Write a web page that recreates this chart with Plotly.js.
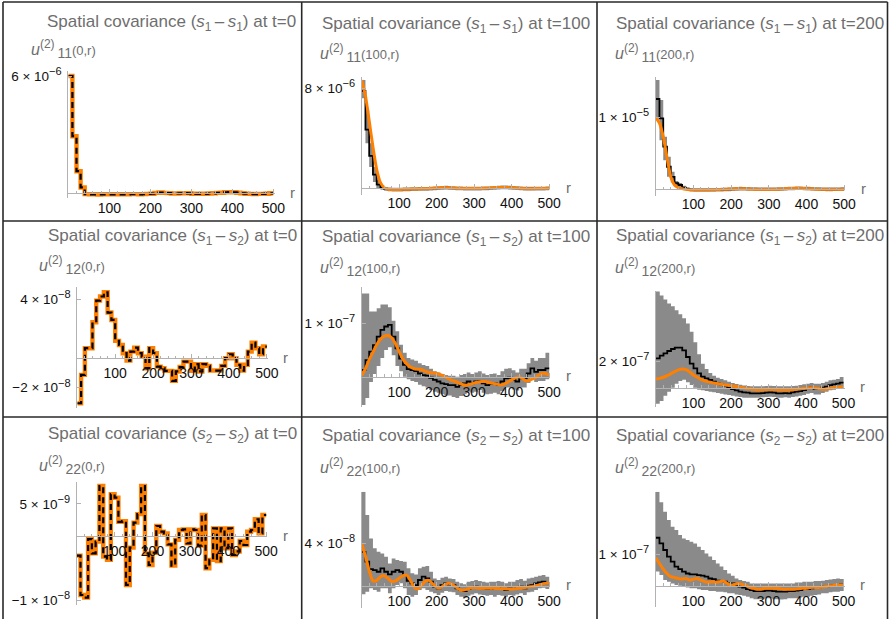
<!DOCTYPE html>
<html><head><meta charset="utf-8">
<script src="https://cdn.plot.ly/plotly-3.0.1.min.js"></script>
<style>html,body{margin:0;padding:0;background:#fff}#chart{width:889px;height:619px}</style>
</head><body><div id="chart"></div>
<script>
// ---------- data ----------
// r grid: bin left edges (50 bins of width 10) plus closing edge 500
const rEdges = [0,10,20,30,40,50,60,70,80,90,100,110,120,130,140,150,160,170,180,190,200,210,220,230,240,250,260,270,280,290,300,310,320,330,340,350,360,370,380,390,400,410,420,430,440,450,460,470,480,490,500];
// theory curve sample points
const rTheory = rEdges;

// Row 1: s1-s1 (units 1e-6)
const s11_t0 = [6.0,2.92,1.13,0.30,-0.04,-0.05,-0.05,-0.06,-0.05,-0.05,-0.05,-0.05,-0.05,-0.05,-0.05,-0.04,-0.04,-0.05,-0.04,-0.03,-0.02,0.02,0.04,0.02,0.01,-0.01,-0.01,0.0,0.01,0.0,-0.02,-0.03,-0.02,-0.03,-0.01,0.0,0.02,0.03,0.05,0.06,0.05,0.03,0.0,-0.02,-0.03,-0.04,-0.03,-0.03,-0.02,0.0];

const s11_t100_mean = [7.8,4.7,2.6,1.1,0.3,0.05,-0.05,-0.08,-0.1,-0.1,-0.1,-0.09,-0.08,-0.07,-0.06,-0.05,-0.05,-0.04,-0.03,-0.01,0.01,0.03,0.05,0.04,0.02,0.0,-0.01,-0.02,-0.02,-0.02,-0.02,-0.02,-0.01,0.0,0.02,0.04,0.06,0.07,0.07,0.06,0.04,0.02,0.0,-0.02,-0.03,-0.03,-0.03,-0.02,-0.02,-0.01];
const s11_t100_hi = [8.66,6.26,3.6,1.7,0.65,0.25,0.1,0.07,0.05,0.05,0.05,0.06,0.07,0.08,0.09,0.1,0.1,0.11,0.12,0.14,0.16,0.18,0.2,0.19,0.17,0.15,0.14,0.13,0.13,0.13,0.13,0.13,0.14,0.15,0.17,0.19,0.21,0.22,0.22,0.21,0.19,0.17,0.15,0.13,0.12,0.12,0.12,0.13,0.13,0.14];
const s11_t100_lo = [7.2,3.6,1.7,0.5,0.0,-0.12,-0.2,-0.23,-0.25,-0.25,-0.25,-0.24,-0.23,-0.22,-0.21,-0.2,-0.2,-0.19,-0.18,-0.16,-0.14,-0.12,-0.1,-0.11,-0.13,-0.15,-0.16,-0.17,-0.17,-0.17,-0.17,-0.17,-0.16,-0.15,-0.13,-0.11,-0.09,-0.08,-0.08,-0.09,-0.11,-0.13,-0.15,-0.17,-0.18,-0.18,-0.18,-0.17,-0.17,-0.16];
const s11_t100_theory = [8.66,7.4,5.4,3.3,1.5,0.45,0.05,-0.08,-0.1,-0.1,-0.1,-0.08,-0.08,-0.06,-0.05,-0.05,-0.04,-0.03,-0.02,0.0,0.02,0.04,0.05,0.04,0.02,0.0,-0.01,-0.02,-0.02,-0.02,-0.02,-0.02,-0.01,0.0,0.02,0.04,0.06,0.07,0.07,0.06,0.04,0.02,0.0,-0.02,-0.03,-0.03,-0.03,-0.02,-0.02,-0.01,0.0];

const s11_t200_mean = [12.55,9.86,5.9,3.1,1.7,0.8,0.56,0.2,0.0,-0.1,-0.15,-0.15,-0.15,-0.14,-0.13,-0.12,-0.11,-0.1,-0.08,-0.05,-0.02,0.02,0.05,0.04,0.02,0.0,-0.02,-0.03,-0.03,-0.03,-0.03,-0.03,-0.02,0.0,0.03,0.06,0.08,0.1,0.1,0.08,0.06,0.03,0.0,-0.02,-0.04,-0.05,-0.05,-0.04,-0.03,-0.02];
const s11_t200_hi = [15.2,12.4,7.3,4.5,2.4,1.1,0.85,0.45,0.25,0.15,0.1,0.1,0.1,0.11,0.12,0.13,0.14,0.15,0.17,0.2,0.23,0.27,0.3,0.29,0.27,0.25,0.23,0.22,0.22,0.22,0.22,0.22,0.23,0.25,0.28,0.31,0.33,0.35,0.35,0.33,0.31,0.28,0.25,0.23,0.21,0.2,0.2,0.21,0.22,0.23];
const s11_t200_lo = [10.0,6.8,4.0,1.7,0.9,0.3,0.25,-0.05,-0.25,-0.35,-0.4,-0.4,-0.4,-0.39,-0.38,-0.37,-0.36,-0.35,-0.33,-0.3,-0.27,-0.23,-0.2,-0.21,-0.23,-0.25,-0.27,-0.28,-0.28,-0.28,-0.28,-0.28,-0.27,-0.25,-0.22,-0.19,-0.17,-0.15,-0.15,-0.17,-0.19,-0.22,-0.25,-0.27,-0.29,-0.3,-0.3,-0.29,-0.28,-0.27];
const s11_t200_theory = [10.0,9.2,7.3,4.4,1.7,0.55,0.2,0.05,-0.05,-0.1,-0.12,-0.12,-0.11,-0.1,-0.09,-0.08,-0.07,-0.06,-0.04,-0.02,0.0,0.03,0.05,0.04,0.02,0.0,-0.02,-0.03,-0.03,-0.03,-0.03,-0.03,-0.02,0.0,0.03,0.06,0.08,0.1,0.1,0.08,0.05,0.03,0.0,-0.02,-0.04,-0.05,-0.05,-0.04,-0.03,-0.02,-0.01];

// Row 2: s1-s2 (units 1e-8)
const s12_t0 = [-3.06,-1.13,0.68,0.68,2.44,3.91,4.19,4.48,3.1,2.6,1.18,0.9,0.34,-0.16,0.45,0.72,0.34,0.1,-0.68,0.68,0.34,-0.57,-0.68,-0.86,-0.86,-1.54,-0.9,-0.6,-0.23,-0.23,-0.86,-0.4,-0.9,-0.4,-0.52,-0.84,-0.84,-0.84,-0.52,0.0,0.27,0.0,-0.45,-0.84,-0.45,0.45,1.06,0.68,0.27,0.79];

const s12_t100_mean = [1.25,3.1,4.7,5.9,7.5,8.75,9.4,9.7,7.5,5.3,3.4,2.2,1.4,1.25,1.06,0.6,0.3,0.2,-0.2,-0.6,-0.9,-1.25,-1.4,-1.56,-1.56,-1.9,-1.56,-1.25,-0.9,-1.25,-0.9,-0.8,-1.25,-1.56,-1.4,-1.25,-1.56,-0.9,-0.3,-0.2,-0.6,-0.9,-0.3,-0.3,0.6,1.56,0.9,1.25,1.25,1.56];
const s12_t100_hi = [15.6,15.6,12.2,12.2,12.8,13.5,13.5,13.0,10.5,8.5,6.0,4.5,3.5,3.2,3.0,2.5,2.2,2.0,1.5,1.0,0.8,0.5,0.3,0.2,0.2,0.0,0.3,0.5,0.8,0.5,0.8,1.0,0.6,0.3,0.5,0.6,0.3,1.0,1.5,1.6,1.2,0.8,1.5,1.5,2.5,3.5,3.0,3.5,3.5,4.5];
const s12_t100_lo = [-5.3,-4.0,-1.0,0.5,2.0,3.5,5.0,5.5,4.0,2.0,1.0,0.0,-0.5,-0.8,-1.0,-1.5,-1.8,-2.0,-2.5,-2.8,-3.0,-3.3,-3.5,-3.5,-3.8,-4.0,-3.6,-3.3,-2.8,-3.0,-2.8,-2.5,-3.0,-3.3,-3.2,-3.0,-3.3,-2.7,-2.0,-2.0,-2.4,-2.6,-2.0,-2.0,-1.2,-0.3,-1.0,-0.8,-0.8,-0.5];
const s12_t100_theory = [0.2,1.5,3.2,4.6,6.0,7.0,7.6,7.7,7.3,6.2,4.7,3.3,2.4,1.8,1.5,1.4,1.3,1.0,0.8,0.7,0.6,0.4,0.1,-0.3,-0.7,-0.9,-1.2,-1.5,-1.6,-1.4,-1.2,-1.0,-0.9,-0.9,-1.1,-1.25,-1.4,-1.55,-1.4,-1.0,-0.6,-0.2,0.0,-0.4,-0.8,-0.6,-0.3,0.2,0.6,0.6,0.3];

const s12_t200_mean = [22,24,25.75,27.5,29,30,30,28,23,18,14.5,10.75,8.25,7,5.75,4.5,3.25,2.5,1.5,0,-1,-2,-3,-3.5,-3.75,-4.25,-4.25,-4.25,-4,-3.75,-3.5,-3.75,-4.25,-4.25,-4,-4.25,-3.5,-3,-2.5,-1.75,-0.5,0,-1,-1,0,0.75,2,2.5,3,3.75];
const s12_t200_hi = [72,69,66,63,61,58,55,52,48,42,34,25,18,14,11,9,7.5,6.5,5.5,4.5,3.5,2.8,2.2,1.6,1.3,1,1,1,1,1.2,1.5,1.2,1,1,1,1,1.2,1.5,2,2.5,3,3.5,3,3,3.5,4.5,5.5,6,6.5,8];
const s12_t200_lo = [-12,-10,-6,-3,0,3,5,6,4,2,0,-1.5,-2,-2.5,-3,-3.5,-4,-4.5,-5,-5.5,-6,-6.5,-7,-7.5,-7.5,-7.5,-7.5,-7.5,-7.2,-7,-6.8,-7,-7.5,-7.5,-7.2,-7.5,-7,-6.5,-6,-5.5,-4.5,-4,-5,-5,-4,-3,-2,-1.5,-0.5,0];
const s12_t200_theory = [6.5,7.0,7.8,9.0,10.5,12.0,13.3,14.0,13.5,11.8,9.5,7.8,6.3,5.2,4.4,3.8,3.3,2.8,2.3,1.9,1.5,1.1,0.6,0.0,-0.6,-1.0,-1.4,-1.7,-1.6,-1.4,-1.2,-1.3,-1.5,-1.7,-1.8,-1.75,-1.6,-1.4,-1.0,-0.7,-0.5,-0.2,0.0,-0.5,-1.0,-1.2,-0.8,-0.2,0.2,0.4,0.5];

// Row 3: s2-s2 (units: t=0 and t=100 in 1e-9, t=200 in 1e-8)
const s22_t0 = [-3.05,-9.16,-9.57,-0.47,-2.7,-0.88,7.76,-3.2,-3.7,6.5,5.95,2.2,2.3,-7.6,-1.8,2.07,3.4,7.76,-2.7,-4.5,-2.6,1.55,0.67,0.4,-1.3,-4.6,-0.6,0.93,1.03,-1.14,1.03,0.93,-1.5,3.26,-5.0,-3.7,1.19,-3.9,1.19,-1.9,1.19,-2.95,-2.4,-0.78,-1.4,0.67,0.93,2.6,0.4,3.26];

const s22_t100_mean = [32,22.7,15.7,14.8,13.2,16.4,13.2,10.7,13.2,14.8,13.2,10,4.7,2.2,0.6,5.4,8.5,6.9,3.8,-0.9,-2.5,0.6,2.2,1.3,0.6,-2.5,-4.1,-5,-3.1,-1.9,-0.9,-1.9,-2.5,-3.1,-2.5,-3.1,-2.5,-3.1,-4.1,-2.5,-3.1,-1.9,-0.9,-2.5,0,0.6,2.2,3.1,3.8,2.2];
const s22_t100_hi = [88.8,66.8,44.7,35.3,32,30.5,27.4,21,25.8,24.3,23.3,22.7,16.4,11.7,10.7,16.4,18,18.6,13.2,6.9,5.4,7.6,8.5,6.9,6.3,3.8,2.2,1.3,3.8,4.4,5.4,4.4,3.8,3.1,3.8,3.8,4.4,3.8,2.2,3.8,3.8,5.4,6.3,4.7,6.9,7.6,8.5,9.4,10.1,8.5];
const s22_t100_lo = [-8,-5.7,-2.5,-4,-5.7,-2.5,-2.5,-7.2,-2.5,0.6,2.2,-2.5,-8.8,-10.4,-8.8,-4.1,-2.5,-4.1,-5.7,-7.2,-8.8,-6.6,-5,-5.7,-6.3,-8.8,-10.4,-11.3,-9.4,-8.2,-7.2,-8.2,-8.8,-9.4,-8.8,-10.4,-8.8,-9.4,-10.4,-8.8,-9.4,-8.2,-7.2,-8.8,-6.3,-5.7,-4.1,-2.5,-1.9,-3.1];
const s22_t100_theory = [40,28,14,4.5,5,8.5,9.5,7,4,4.5,7,9.5,10,5,-1.5,-3,0.5,4.5,5,1.5,-1.5,-2,0.5,2.2,1.5,-1,-3.5,-4.2,-3.5,-2.2,-1.8,-2.2,-2.5,-2.5,-2.5,-2.5,-2.6,-2.8,-3,-3.1,-3.1,-2.8,-2.5,-2,-1.5,-1,-0.5,0.5,1.5,2.2,2.5];

const s22_t200_mean = [15.3,13.5,11.4,9.3,7.7,6.1,5.3,4.5,3.9,3.6,3.6,3.4,3.2,2.9,2.3,2.1,1.6,1.5,1.3,0.7,0.7,0.2,-0.3,-0.6,-1.1,-1.4,-1.7,-1.7,-1.7,-1.6,-1.6,-1.7,-1.9,-1.9,-1.9,-1.7,-1.7,-1.6,-1.4,-1.1,-1.1,-0.85,-0.6,-0.6,-0.3,-0.3,0,0.2,0.2,0.4];
const s22_t200_hi = [30,26.6,23.6,21,18.8,17.8,16.2,15.1,14.6,14,13.5,12.4,11.4,10.3,9.3,8.2,7.1,6.1,5.0,3.9,3.2,2.3,1.8,1.5,1.3,0.7,0.7,0.7,0.7,0.7,0.7,0.7,0.7,0.7,0.7,0.7,0.7,1.0,1.0,1.3,1.3,1.3,1.5,1.5,1.6,1.8,2.0,2.1,2.3,2.1];
const s22_t200_lo = [4.5,3.4,1.8,1.3,0.7,0.2,0,-0.3,-0.6,-0.85,-0.85,-1.1,-1.4,-1.4,-1.7,-1.7,-1.9,-1.9,-2.1,-2.4,-2.4,-2.8,-3.0,-3.2,-3.5,-4.0,-4.3,-4.3,-4.3,-4.0,-4.0,-4.3,-4.3,-4.4,-4.3,-4.0,-4.0,-4.0,-3.8,-3.5,-3.5,-3.2,-3.0,-2.8,-2.4,-2.4,-2.1,-1.9,-1.9,-1.7];
const s22_t200_theory = [8.9,7.1,5.3,3.9,2.9,2.6,2.3,2.1,2.3,1.8,2.1,2.3,1.8,1.3,1.1,1.3,1.1,1.3,1.5,0.7,0.2,0.4,0.7,0.4,0,-0.6,-0.85,-1.1,-1.1,-0.85,-0.85,-0.85,-0.85,-0.95,-1.1,-1.1,-1.1,-1.1,-0.95,-0.85,-0.85,-0.6,-0.5,-0.6,-0.5,-0.3,-0.2,0,0.2,0.2,0.2];

// labels
const pairLabels = ['<i>s</i><sub>1</sub>\u2009\u2013\u2009<i>s</i><sub>1</sub>','<i>s</i><sub>1</sub>\u2009\u2013\u2009<i>s</i><sub>2</sub>','<i>s</i><sub>2</sub>\u2009\u2013\u2009<i>s</i><sub>2</sub>'];
const pairIdx = ['11','12','22'];
const times = [0,100,200];
const yTickVals = [[6],[8],[10],[4,-2],[10],[20],[5,-10],[40],[10]];
const sci = (m, e) => m + ' \u00d7 10<sup><span style="font-size:11px">\u2212' + e + '</span></sup>';
const yTickText = [
  [sci('6',6)],[sci('8',6)],[sci('1',5)],
  [sci('4',8),sci('\u22122',8)],[sci('1',7)],[sci('2',7)],
  [sci('5',9),sci('\u22121',8)],[sci('4',8)],[sci('1',7)]];
const xTickVals = [100,200,300,400,500];
const xMinorVals = [20,40,60,80,120,140,160,180,220,240,260,280,320,340,360,380,420,440,460,480];

const panelsData = [
  {step:s11_t0},
  {step:s11_t100_mean, lo:s11_t100_lo, hi:s11_t100_hi, theory:s11_t100_theory},
  {step:s11_t200_mean, lo:s11_t200_lo, hi:s11_t200_hi, theory:s11_t200_theory},
  {step:s12_t0},
  {step:s12_t100_mean, lo:s12_t100_lo, hi:s12_t100_hi, theory:s12_t100_theory},
  {step:s12_t200_mean, lo:s12_t200_lo, hi:s12_t200_hi, theory:s12_t200_theory},
  {step:s22_t0},
  {step:s22_t100_mean, lo:s22_t100_lo, hi:s22_t100_hi, theory:s22_t100_theory},
  {step:s22_t200_mean, lo:s22_t200_lo, hi:s22_t200_hi, theory:s22_t200_theory}
];

// ---------- layout geometry (pixels) ----------
const W = 889, H = 619;
const geo = [
  {x0:68.3, xs:0.41,  yz:193.3, yu:19.55, top:71,    bot:198},
  {x0:361.7,xs:0.375, yz:188.3, yu:12.5,  top:77.3,  bot:195},
  {x0:655.7,xs:0.377, yz:189,   yu:7.17,  top:77.3,  bot:196},
  {x0:77.3, xs:0.379, yz:358.2, yu:14.72, top:286.7, bot:408},
  {x0:361.7,xs:0.375, yz:376.7, yu:5.34,  top:286.7, bot:406.7},
  {x0:656,  xs:0.375, yz:387.7, yu:1.335, top:291,   bot:406.7},
  {x0:76.7, xs:0.379, yz:536,   yu:6.44,  top:481.7, bot:605},
  {x0:361.7,xs:0.375, yz:585.7, yu:1.058, top:491.7, bot:607.7},
  {x0:655.7,xs:0.376, yz:585.7, yu:3.133, top:491.7, bot:607}
];
const titlePos = [[171,23],[456,25],[750,25],[172,237],[456,238],[750,237],[172,435],[456,436.5],[750,436.5]];
const ylabPos  = [[29,49],[318,53],[613,53],[37,265],[318,267],[613,267],[37,465],[318,466.5],[613,466.5]];

const ORANGE = 'rgb(255,128,0)';
const GRAY = 'rgb(138,138,138)';
const AXC = 'rgb(178,178,178)';
const LABC = 'rgb(110,110,110)';
const FONT = 'Liberation Sans, Arial, sans-serif';
const XMAX = 503;

const stepY = a => a.concat([a[a.length-1]]);

const traces = [];
const layout = {
  width: W, height: H, margin:{l:0,r:0,t:0,b:0}, showlegend:false,
  paper_bgcolor:'#fff', plot_bgcolor:'rgba(0,0,0,0)',
  font:{family:FONT, size:13, color:'#222'},
  annotations:[], shapes:[]
};

panelsData.forEach((p,i) => {
  const n = i+1, xa = 'x'+(n>1?n:''), ya = 'y'+(n>1?n:'');
  const g = geo[i];
  const yMax = (g.yz - g.top)/g.yu, yMin = -(g.bot - g.yz)/g.yu;
  const xd = [g.x0/W, (g.x0 + XMAX*g.xs)/W];
  const yd = [1 - g.bot/H, 1 - g.top/H];
  const zeroPos = yd[0] + (0 - yMin)/(yMax - yMin)*(yd[1]-yd[0]);
  const isT0 = (i % 3) === 0;

  if (!isT0) {
    traces.push({x:rEdges, y:stepY(p.lo), xaxis:xa, yaxis:ya, mode:'lines', line:{shape:'hv', width:0, color:GRAY}, hoverinfo:'skip'});
    traces.push({x:rEdges, y:stepY(p.hi), xaxis:xa, yaxis:ya, mode:'lines', line:{shape:'hv', width:0, color:GRAY}, fill:'tonexty', fillcolor:GRAY, hoverinfo:'skip'});
    traces.push({x:rEdges, y:stepY(p.step), xaxis:xa, yaxis:ya, mode:'lines', line:{shape:'hv', width:1.8, color:'#000'}});
    traces.push({x:rTheory, y:p.theory, xaxis:xa, yaxis:ya, mode:'lines', line:{shape:'spline', smoothing:0.6, width:3, color:ORANGE}});
  } else {
    traces.push({x:rEdges, y:stepY(p.step), xaxis:xa, yaxis:ya, mode:'lines', line:{shape:'hv', width:4.4, color:ORANGE}});
    traces.push({x:rEdges, y:stepY(p.step), xaxis:xa, yaxis:ya, mode:'lines', line:{shape:'hv', width:2.2, color:'#000', dash:'6px,4px'}});
  }

  layout['xaxis'+(n>1?n:'')] = {
    domain: xd, range:[0, XMAX], anchor:'free', position: zeroPos,
    showline:true, linecolor:AXC, linewidth:1, showgrid:false, zeroline:false,
    tickmode:'array', tickvals:xTickVals, ticks:'inside', ticklen:4, tickcolor:AXC,
    minor:{tickmode:'array', tickvals:xMinorVals, ticks:'inside', ticklen:2.5, tickcolor:AXC},
    tickfont:{family:FONT, size:14, color:'#111'}, ticklabelstandoff:2, fixedrange:true
  };
  layout['yaxis'+(n>1?n:'')] = {
    domain: yd, range:[yMin, yMax], anchor:xa,
    showline:true, linecolor:AXC, linewidth:1, showgrid:false, zeroline:false,
    tickmode:'array', tickvals:yTickVals[i], ticktext:yTickText[i], ticks:'inside', ticklen:4, tickcolor:AXC,
    tickfont:{family:FONT, size:13.5, color:'#111'}, ticklabelstandoff:3, fixedrange:true
  };

  const row = Math.floor(i/3), col = i%3;
  layout.annotations.push({
    xref:'paper', yref:'paper', x:titlePos[i][0]/W, y:1-titlePos[i][1]/H, xanchor:'center', yanchor:'middle', showarrow:false,
    text:'Spatial covariance (' + pairLabels[row] + ') at t=' + times[col],
    font:{family:FONT, size:17, color:LABC}
  });
  layout.annotations.push({
    xref:'paper', yref:'paper', x:ylabPos[i][0]/W, y:1-ylabPos[i][1]/H, xanchor:'left', yanchor:'middle', showarrow:false,
    text:'<i>u</i><sup><span style="font-size:12px">(2)</span></sup><sub><span style="font-size:14px">\u2009' + pairIdx[row] + '</span></sub><span style="font-size:13px">(' + times[col] + ',r)</span>',
    font:{family:FONT, size:16, color:LABC}
  });
  layout.annotations.push({
    xref:xa, yref:ya, x:XMAX, y:0, xanchor:'center', yanchor:'middle', xshift:18, yshift:1, showarrow:false,
    text:'r', font:{family:FONT, size:15, color:LABC}
  });
});

// panel frame lines
const LC = 'rgb(40,40,40)';
[3, 301.7, 597, 887.5].forEach(x => layout.shapes.push({type:'line', xref:'paper', yref:'paper', x0:x/W, x1:x/W, y0:1-2/H, y1:0, line:{color:LC, width:1.6}}));
[2, 221, 417].forEach(y => layout.shapes.push({type:'line', xref:'paper', yref:'paper', x0:3/W, x1:887.5/W, y0:1-y/H, y1:1-y/H, line:{color:LC, width:1.6}}));

Plotly.newPlot('chart', traces, layout, {staticPlot:true, displayModeBar:false});
</script>
</body></html>
